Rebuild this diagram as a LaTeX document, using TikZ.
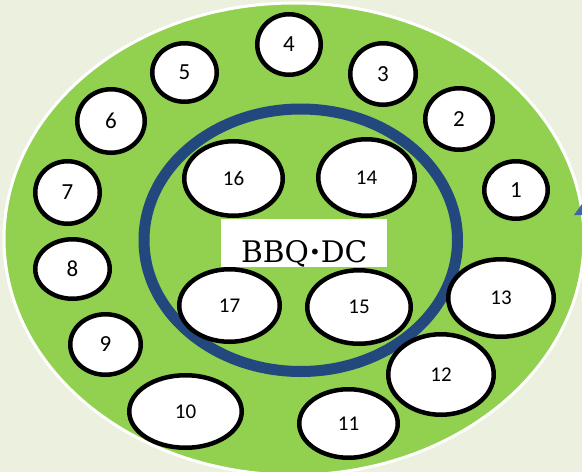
\documentclass[tikz,border=0pt]{standalone}
\usepackage{fontspec}
\setmainfont{Carlito}
\newfontfamily\signfont{DejaVu Serif}
\usetikzlibrary{shapes.geometric}

\definecolor{paleground}{RGB}{235,241,222}
\definecolor{lawn}{RGB}{146,208,80}
\definecolor{ringblue}{RGB}{34,72,125}
\definecolor{tipblue}{RGB}{63,102,166}

\begin{document}
\begin{tikzpicture}[
  x=1pt,
  y=-1pt,
  bbqtable/.style={
    draw,
    ellipse,
    line width=4.5pt,
    fill=white,
    inner sep=0pt,
    font=\fontsize{21}{21}\selectfont
  },
  onedigit/.style={
    bbqtable,
    font=\fontsize{23}{23}\selectfont
  },
  sign/.style={
    fill=white,
    inner sep=0pt,
    minimum width=166pt,
    text height=43pt,
    text depth=5pt,
    font=\signfont\fontsize{29.7}{30}\selectfont
  }
]

% Canvas
\clip (0,0) rectangle (582,472);
\fill[paleground] (0,0) rectangle (582,472);

% Lawn and inner ring
\filldraw[fill=lawn, draw=white, line width=3pt] (294,239) ellipse [x radius=290pt, y radius=236pt];
\draw[ringblue, line width=11pt] (300.75,240.25) ellipse [x radius=156.75pt, y radius=131.25pt];

% Arrow tip cut off at the right edge
\fill[tipblue] (574,215) -- (582,204) -- (582,215) -- cycle;

% Outer tables
\node[onedigit, minimum width=63.5pt, minimum height=57.5pt] (t1) at (516,190) {1};
\node[onedigit, minimum width=67.5pt, minimum height=61.5pt] (t2) at (459,119) {2};
\node[onedigit, minimum width=65.5pt, minimum height=61.5pt] (t3) at (383,74) {3};
\node[onedigit, minimum width=63.5pt, minimum height=60.5pt] (t4) at (289,44.5) {4};
\node[onedigit, minimum width=64.5pt, minimum height=58.5pt] (t5) at (184.5,72.5) {5};
\node[onedigit, minimum width=67.5pt, minimum height=63.5pt] (t6) at (111,121) {6};
\node[onedigit, minimum width=64.5pt, minimum height=62.5pt] (t7) at (67.5,192.5) {7};
\node[onedigit, minimum width=74.5pt, minimum height=59.5pt] (t8) at (72.5,269) {8};
\node[onedigit, minimum width=70.5pt, minimum height=60.5pt] (t9) at (105.5,344.5) {9};
\node[bbqtable, minimum width=112.5pt, minimum height=72.5pt] (t10) at (185.5,411.5) {10};
\node[bbqtable, minimum width=98.5pt, minimum height=68.5pt] (t11) at (348.5,423.5) {11};
\node[bbqtable, minimum width=105.5pt, minimum height=80.5pt] (t12) at (441,374.5) {12};
\node[bbqtable, minimum width=105.5pt, minimum height=77.5pt] (t13) at (501,298) {13};

% Inner tables
\node[bbqtable, minimum width=96.5pt, minimum height=76.5pt] (t14) at (366.5,177.5) {14};
\node[bbqtable, minimum width=103.5pt, minimum height=73.5pt] (t15) at (359,307) {15};
\node[bbqtable, minimum width=98.5pt, minimum height=74.5pt] (t16) at (233.5,178.5) {16};
\node[bbqtable, minimum width=100.5pt, minimum height=72.5pt] (t17) at (229.5,305.5) {17};

% Sign
\node[sign, anchor=north west] (bbq) at (221,219) {BBQ\raisebox{3pt}{\fontsize{20}{20}\selectfont •}DC};

\end{tikzpicture}
\end{document}
